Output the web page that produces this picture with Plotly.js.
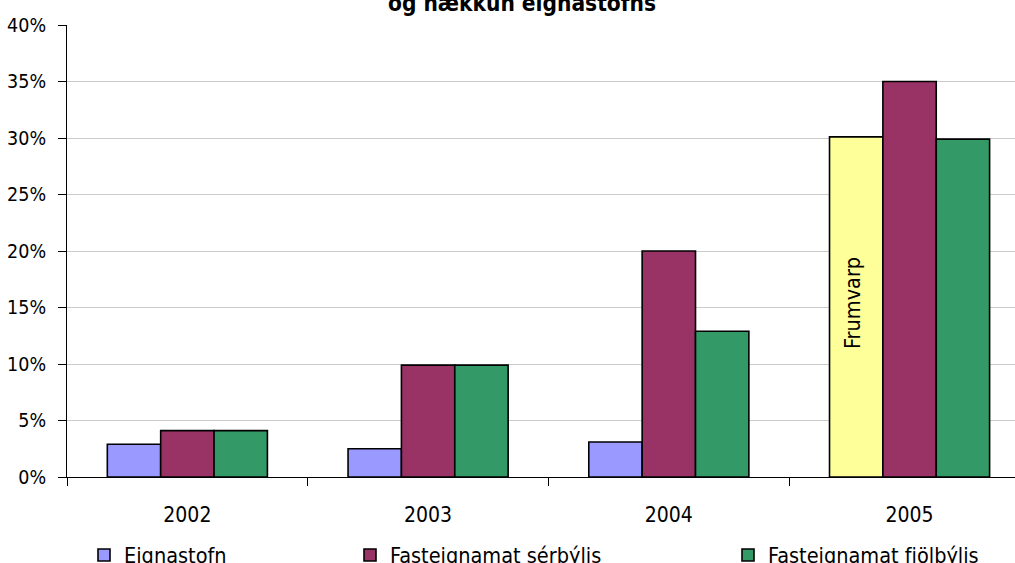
<!DOCTYPE html>
<html>
<head>
<meta charset="utf-8">
<script src="https://cdn.plot.ly/plotly-3.0.1.min.js"></script>
<style>html,body{margin:0;padding:0;overflow:hidden;background:#fff;}#chart{width:1015px;height:563px;}</style>
</head>
<body>
<div id="chart"></div>
<script>
var years = ['2002', '2003', '2004', '2005'];
var eignastofn = [2.9, 2.5, 3.1, 30.1];
var serbylis = [4.1, 9.9, 20.0, 35.0];
var fjolbylis = [4.1, 9.9, 12.9, 29.9];
var seriesNames = ['Eignastofn', 'Fasteignamat sérbýlis', 'Fasteignamat fjölbýlis'];
var yTicks = [0, 5, 10, 15, 20, 25, 30, 35, 40];
var titleText = 'og hækkun eignastofns';
var noteText = 'Frumvarp';

var FONT = 'DejaVu Sans Condensed, DejaVu Sans, Verdana, sans-serif';
var line = {color: '#000', width: 1.6};

var traces = [
  {type: 'bar', x: years, y: eignastofn, name: seriesNames[0], legend: 'legend',
   marker: {color: ['#9999FF', '#9999FF', '#9999FF', '#FFFF99'], line: line}},
  {type: 'bar', x: years, y: serbylis, name: seriesNames[1], legend: 'legend2',
   marker: {color: '#993366', line: line}},
  {type: 'bar', x: years, y: fjolbylis, name: seriesNames[2], legend: 'legend3',
   marker: {color: '#339966', line: line}}
];

function leg(px) {
  return {orientation: 'h', xref: 'container', yref: 'container', x: px / 1015, y: 1 - 555 / 563,
    xanchor: 'left', yanchor: 'middle', font: {family: FONT, size: 21.5, color: '#000'},
    bgcolor: 'rgba(0,0,0,0)', borderwidth: 0, itemclick: false};
}

var layout = {
  width: 1015, height: 563,
  margin: {l: 67, r: 0, t: 25, b: 86},
  paper_bgcolor: '#fff', plot_bgcolor: '#fff',
  barmode: 'group', bargap: 0.335, bargroupgap: 0,
  showlegend: true,
  font: {family: FONT, size: 19, color: '#000'},
  title: {text: titleText, font: {family: FONT, size: 22.5, color: '#000', weight: 'bold'},
    xref: 'container', yref: 'container', x: 522 / 1015, xanchor: 'center', y: 1 - 3.5 / 563, yanchor: 'middle'},
  xaxis: {type: 'category', range: [-0.5, 3.438], tickson: 'boundaries', ticks: 'outside', ticklen: 8,
    tickcolor: '#000', tickwidth: 1, showline: true, linecolor: '#000', linewidth: 1,
    showgrid: false, zeroline: false, ticklabelstandoff: 19, fixedrange: true,
    tickfont: {family: FONT, size: 21, color: '#000'}},
  yaxis: {range: [0, 40], tickvals: yTicks, ticktext: yTicks.map(function (v) { return v + '%'; }),
    ticks: 'outside', ticklen: 8, tickcolor: '#000', tickwidth: 1,
    showline: true, linecolor: '#000', linewidth: 1, showgrid: true, gridcolor: '#cccccc', gridwidth: 1,
    zeroline: false, ticklabelstandoff: 8, fixedrange: true,
    tickfont: {family: FONT, size: 19.5, color: '#000'}},
  legend: leg(84),
  legend2: leg(350),
  legend3: leg(728),
  annotations: [{xref: 'x', yref: 'y', x: 3, y: eignastofn[3] / 2, xshift: -56.5, yshift: 4,
    text: noteText, textangle: -90, showarrow: false, font: {family: FONT, size: 21.5, color: '#000'}}]
};

Plotly.newPlot('chart', traces, layout, {displayModeBar: false, staticPlot: true});
</script>
</body>
</html>
